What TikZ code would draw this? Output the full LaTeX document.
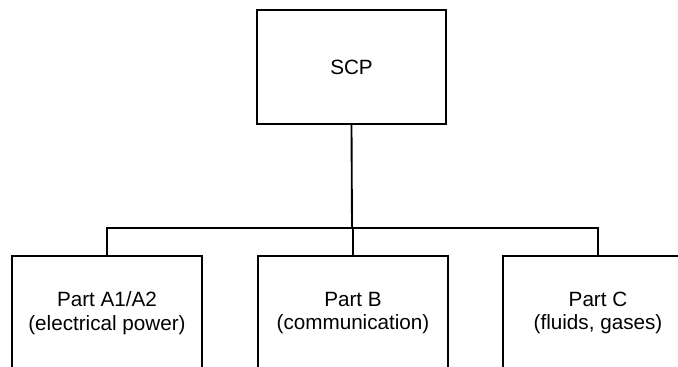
\documentclass[tikz,border=0pt]{standalone}
\usepackage{fontspec}
\setmainfont{Liberation Sans}

\begin{document}
\begin{tikzpicture}[x=0.75pt,y=-0.75pt,font=\fontsize{15.5}{17.5}\selectfont, part/.style={draw,line width=0.8pt,minimum width=142.5pt,minimum height=85.5pt,inner sep=0pt,align=center}]

\useasboundingbox (0,0) rectangle (678,367);
\clip (0,0) rectangle (678,367);

\begin{scope}
\node[part,minimum width=141.75pt] (scp) at (351.5,67) {SCP};

\node[part] (a) at (107,313) {Part A1/A2\\(electrical power)};
\node[part] (b) at (353,313) {Part B\\(communication)};
\node[part] (c) at (598,313) {Part C\\(fluids, gases)};

\coordinate (bus) at (352,228);

\draw[line width=1.4pt] (scp.south) -- (bus);
\draw[line width=0.8pt] (a.north) |- (bus) -| (c.north);
\draw[line width=0.8pt] (b.north) -- (b.north |- bus);
\end{scope}

\end{tikzpicture}
\end{document}
